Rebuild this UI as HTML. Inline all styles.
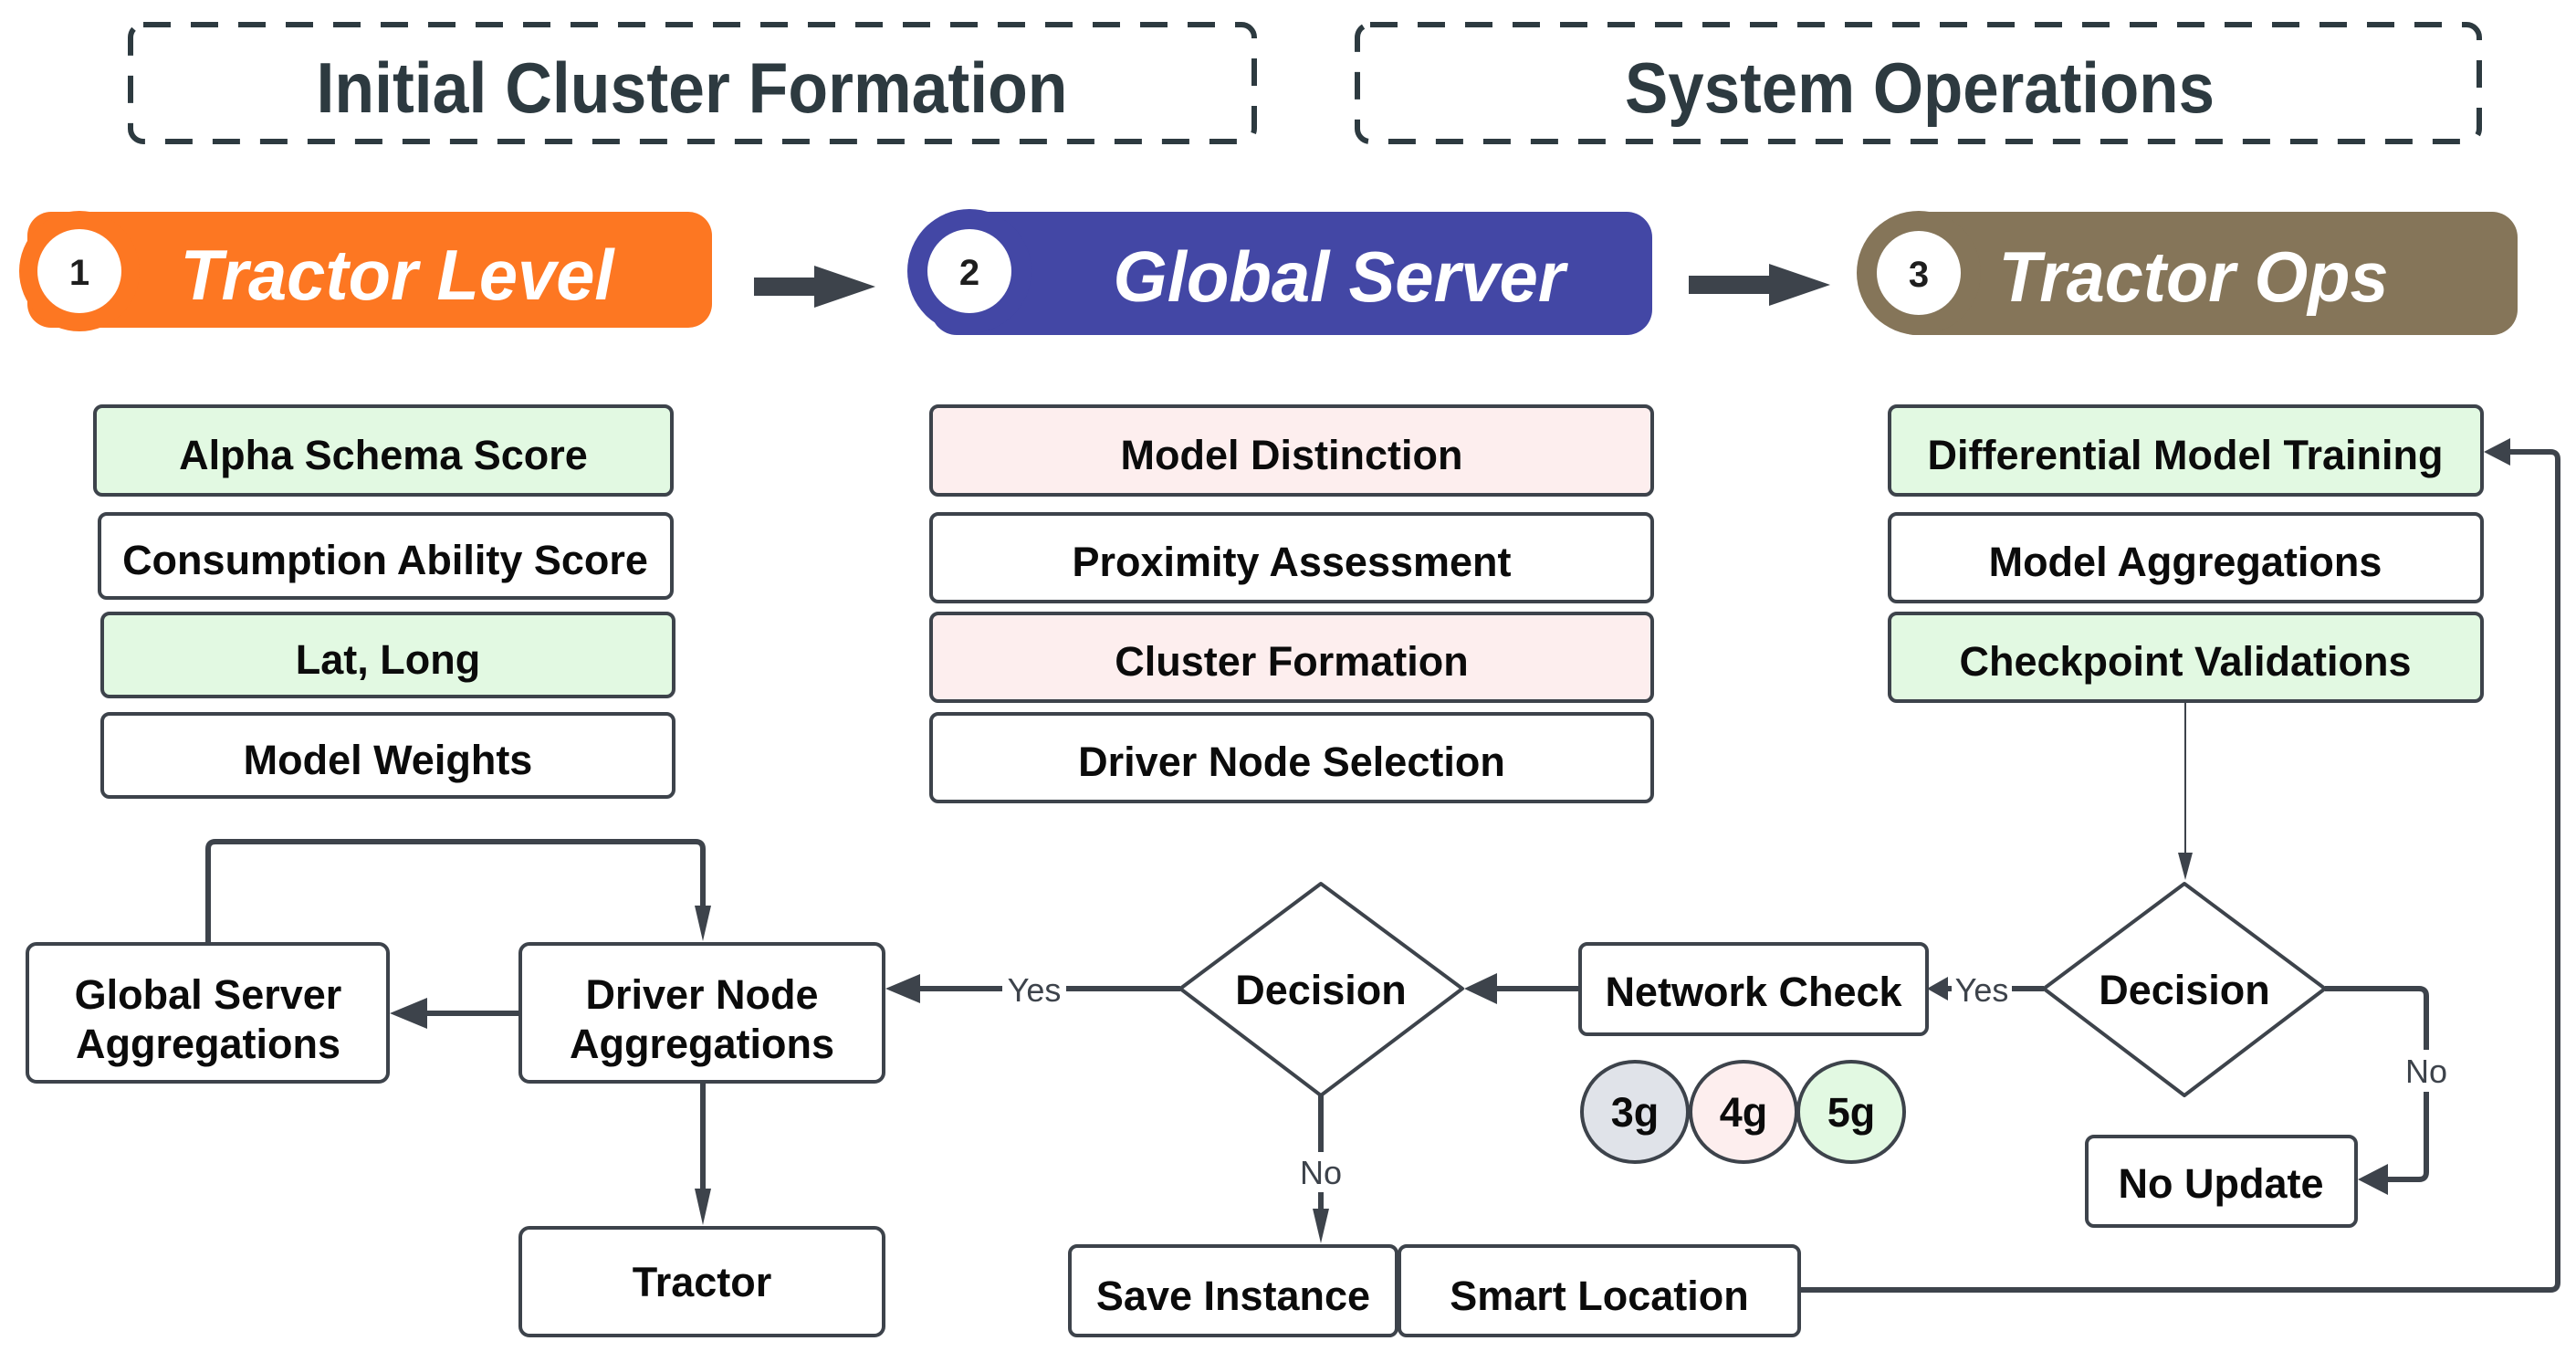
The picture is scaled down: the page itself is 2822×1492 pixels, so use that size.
<!DOCTYPE html>
<html><head><meta charset="utf-8"><style>
html,body{margin:0;padding:0;background:#fff;}
svg{display:block;}
text{font-family:"Liberation Sans",sans-serif;font-weight:bold;}
.bt{font-size:45px;fill:#0b0b0b;text-anchor:middle;}
.lb{font-size:36px;fill:#3d434b;text-anchor:middle;font-weight:normal;}
.box{stroke:#3d434b;stroke-width:4;}
.ln{stroke:#3d434b;stroke-width:6;fill:none;stroke-linejoin:round;}
</style></head><body>
<svg width="2822" height="1492" viewBox="0 0 2822 1492" xmlns="http://www.w3.org/2000/svg">
<!-- titles -->
<rect x="143" y="27" width="1231" height="128" rx="14" fill="none" stroke="#2d3a40" stroke-width="6" stroke-dasharray="30 22"/>
<text x="758" y="123" text-anchor="middle" font-size="78" fill="#2d3a40" textLength="823" lengthAdjust="spacingAndGlyphs">Initial Cluster Formation</text>
<rect x="1487" y="27" width="1229" height="128" rx="14" fill="none" stroke="#2d3a40" stroke-width="6" stroke-dasharray="30 22"/>
<text x="2103" y="123" text-anchor="middle" font-size="78" fill="#2d3a40" textLength="646" lengthAdjust="spacingAndGlyphs">System Operations</text>

<!-- pills -->
<rect x="30" y="232" width="750" height="127" rx="26" fill="#fd7722"/>
<circle cx="87" cy="297" r="66" fill="#fd7722"/>
<circle cx="87" cy="297" r="46" fill="#fff"/>
<text x="87" y="312" text-anchor="middle" font-size="40" fill="#1e1e1e">1</text>
<text x="435" y="328" text-anchor="middle" font-size="78" font-style="italic" fill="#fff" textLength="475" lengthAdjust="spacingAndGlyphs">Tractor Level</text>

<rect x="1020" y="232" width="790" height="135" rx="28" fill="#4347a5"/>
<circle cx="1062" cy="297" r="68" fill="#4347a5"/>
<circle cx="1062" cy="297" r="46" fill="#fff"/>
<text x="1062" y="312" text-anchor="middle" font-size="40" fill="#1e1e1e">2</text>
<text x="1467" y="330" text-anchor="middle" font-size="78" font-style="italic" fill="#fff" textLength="495" lengthAdjust="spacingAndGlyphs">Global Server</text>

<rect x="2070" y="232" width="688" height="135" rx="28" fill="#857559"/>
<circle cx="2102" cy="299" r="68" fill="#857559"/>
<circle cx="2102" cy="299" r="46" fill="#fff"/>
<text x="2102" y="314" text-anchor="middle" font-size="40" fill="#1e1e1e">3</text>
<text x="2403" y="330" text-anchor="middle" font-size="78" font-style="italic" fill="#fff" textLength="427" lengthAdjust="spacingAndGlyphs">Tractor Ops</text>

<!-- big arrows -->
<polygon points="826,304 892,304 892,291 959,314 892,337 892,324 826,324" fill="#3d434b"/>
<polygon points="1850,302 1938,302 1938,289 2005,312 1938,335 1938,322 1850,322" fill="#3d434b"/>

<!-- left column -->
<rect class="box" x="104" y="445" width="632" height="97" rx="8" fill="#e2f9e2"/>
<text class="bt" x="420" y="514">Alpha Schema Score</text>
<rect class="box" x="109" y="563" width="627" height="92" rx="8" fill="#fff"/>
<text class="bt" x="422" y="629">Consumption Ability Score</text>
<rect class="box" x="112" y="672" width="626" height="91" rx="8" fill="#e2f9e2"/>
<text class="bt" x="425" y="738">Lat, Long</text>
<rect class="box" x="112" y="782" width="626" height="91" rx="8" fill="#fff"/>
<text class="bt" x="425" y="848">Model Weights</text>

<!-- middle column -->
<rect class="box" x="1020" y="445" width="790" height="97" rx="8" fill="#fdeeee"/>
<text class="bt" x="1415" y="514">Model Distinction</text>
<rect class="box" x="1020" y="563" width="790" height="96" rx="8" fill="#fff"/>
<text class="bt" x="1415" y="631">Proximity Assessment</text>
<rect class="box" x="1020" y="672" width="790" height="96" rx="8" fill="#fdeeee"/>
<text class="bt" x="1415" y="740">Cluster Formation</text>
<rect class="box" x="1020" y="782" width="790" height="96" rx="8" fill="#fff"/>
<text class="bt" x="1415" y="850">Driver Node Selection</text>

<!-- right column -->
<rect class="box" x="2070" y="445" width="649" height="97" rx="8" fill="#e2f9e2"/>
<text class="bt" x="2394" y="514">Differential Model Training</text>
<rect class="box" x="2070" y="563" width="649" height="96" rx="8" fill="#fff"/>
<text class="bt" x="2394" y="631">Model Aggregations</text>
<rect class="box" x="2070" y="672" width="649" height="96" rx="8" fill="#e2f9e2"/>
<text class="bt" x="2394" y="740">Checkpoint Validations</text>

<!-- checkpoint -> decision2 -->
<line x1="2394" y1="768" x2="2394" y2="940" stroke="#3d434b" stroke-width="2"/>
<polygon points="2386,934 2402,934 2394,964" fill="#3d434b"/>

<!-- diamonds -->
<polygon points="2393,968 2547,1083 2393,1200 2239,1083" fill="#fff" stroke="#3d434b" stroke-width="4" stroke-linejoin="round"/>
<text class="bt" x="2393" y="1100">Decision</text>
<polygon points="1447,968 1602,1083 1447,1200 1293,1083" fill="#fff" stroke="#3d434b" stroke-width="4" stroke-linejoin="round"/>
<text class="bt" x="1447" y="1100">Decision</text>

<!-- Network check -->
<rect class="box" x="1731" y="1034" width="380" height="99" rx="8" fill="#fff"/>
<text class="bt" x="1921" y="1102">Network Check</text>
<line class="ln" x1="2239" y1="1083" x2="2130" y2="1083"/>
<polygon points="2111,1083 2134,1070 2134,1096" fill="#3d434b"/>
<rect x="2138" y="1066" width="66" height="36" fill="#fff"/>
<text class="lb" x="2171" y="1097">Yes</text>
<line class="ln" x1="1731" y1="1083" x2="1625" y2="1083"/>
<polygon points="1604,1083 1640,1066 1640,1100" fill="#3d434b"/>

<!-- 3g 4g 5g -->
<ellipse cx="1791" cy="1218" rx="58" ry="55" fill="#e0e3e9" stroke="#3d434b" stroke-width="4"/>
<ellipse cx="1910" cy="1218" rx="58" ry="55" fill="#fdeeee" stroke="#3d434b" stroke-width="4"/>
<ellipse cx="2028" cy="1218" rx="58" ry="55" fill="#e2f9e2" stroke="#3d434b" stroke-width="4"/>
<text class="bt" x="1791" y="1234">3g</text>
<text class="bt" x="1910" y="1234">4g</text>
<text class="bt" x="2028" y="1234">5g</text>

<!-- No branch to No Update -->
<path class="ln" d="M2547,1083 H2650 Q2658,1083 2658,1091 V1284 Q2658,1292 2650,1292 H2610"/>
<polygon points="2583,1292 2616,1275 2616,1309" fill="#3d434b"/>
<rect x="2634" y="1150" width="48" height="46" fill="#fff"/>
<text class="lb" x="2658" y="1186">No</text>
<rect class="box" x="2286" y="1245" width="295" height="98" rx="8" fill="#fff"/>
<text class="bt" x="2433" y="1312">No Update</text>

<!-- Decision1 No -> Save Instance -->
<line class="ln" x1="1447" y1="1200" x2="1447" y2="1335"/>
<polygon points="1438,1324 1456,1324 1447,1362" fill="#3d434b"/>
<rect x="1422" y="1262" width="50" height="44" fill="#fff"/>
<text class="lb" x="1447" y="1297">No</text>
<rect class="box" x="1172" y="1365" width="358" height="98" rx="8" fill="#fff"/>
<text class="bt" x="1351" y="1435">Save Instance</text>
<rect class="box" x="1533" y="1365" width="438" height="98" rx="8" fill="#fff"/>
<text class="bt" x="1752" y="1435">Smart Location</text>

<!-- Smart location -> Differential -->
<path class="ln" d="M1971,1413 H2794 Q2802,1413 2802,1405 V503 Q2802,495 2794,495 H2740"/>
<polygon points="2721,495 2750,480 2750,510" fill="#3d434b"/>

<!-- Decision1 Yes -> Driver Node -->
<line class="ln" x1="1293" y1="1083" x2="1000" y2="1083"/>
<polygon points="970,1083 1008,1067 1008,1099" fill="#3d434b"/>
<rect x="1098" y="1064" width="70" height="40" fill="#fff"/>
<text class="lb" x="1133" y="1097">Yes</text>

<rect class="box" x="570" y="1034" width="398" height="151" rx="10" fill="#fff"/>
<text class="bt" x="769" y="1105">Driver Node</text>
<text class="bt" x="769" y="1159">Aggregations</text>
<rect class="box" x="30" y="1034" width="395" height="151" rx="10" fill="#fff"/>
<text class="bt" x="228" y="1105">Global Server</text>
<text class="bt" x="228" y="1159">Aggregations</text>

<line class="ln" x1="570" y1="1110" x2="460" y2="1110"/>
<polygon points="427,1110 468,1093 468,1127" fill="#3d434b"/>

<path class="ln" d="M228,1034 V930 Q228,922 236,922 H762 Q770,922 770,930 V1000"/>
<polygon points="761,992 779,992 770,1031" fill="#3d434b"/>

<line class="ln" x1="770" y1="1185" x2="770" y2="1310"/>
<polygon points="761,1302 779,1302 770,1342" fill="#3d434b"/>
<rect class="box" x="570" y="1345" width="398" height="118" rx="10" fill="#fff"/>
<text class="bt" x="769" y="1420">Tractor</text>
</svg>
</body></html>
